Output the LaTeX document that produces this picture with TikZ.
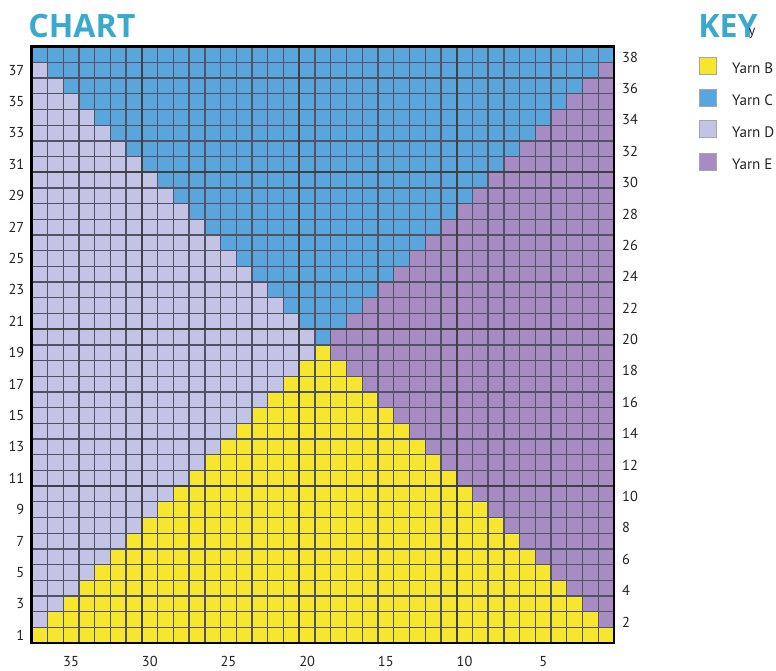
\documentclass[tikz,border=0pt]{standalone}
\usepackage{fontspec}
\setmainfont{PT Sans}
\newfontfamily\headfont{Open Sans}
\usetikzlibrary{positioning}

\definecolor{yarnB}{HTML}{F6E62E}
\definecolor{yarnC}{HTML}{5BA5DD}
\definecolor{yarnD}{HTML}{C3C3E6}
\definecolor{yarnE}{HTML}{A78BC3}
\definecolor{titlecyan}{HTML}{3AA9CF}
\definecolor{gridgray}{HTML}{525266}
\definecolor{labgray}{HTML}{222222}

\tikzset{
  title/.style={font=\headfont\bfseries\fontsize{18.3}{20}\selectfont, text=titlecyan},
  numlab/.style={font=\fontsize{8.2}{9}\selectfont, text=labgray},
  keytext/.style={font=\fontsize{8.6}{10}\selectfont, text=labgray},
  keybox/.style={draw=black!35, line width=0.4pt, minimum size=0.34cm},
  gridline/.style={draw=gridgray, line width=0.75pt},
  gridthick/.style={draw=black!75, line width=1.2pt},
  border/.style={draw=black, line width=1.6pt}
}

\begin{document}
\begin{tikzpicture}[x=0.02cm, y=0.02cm, every node/.style={inner sep=0pt}]
  \useasboundingbox (0,0) rectangle (776,670);

  %% Headings
  \node[title, anchor=base west] (chart) at (28,632) {CHART};
  \node[title, anchor=base west] (key) at (698,632) {KEY};
  \node[numlab, anchor=base] (stray) at (752,634) {y};

  %% Chart: 37 stitches x 38 rows, stitch 1 on the right
  \begin{scope}[shift={(614,27)}, x=-0.3148cm, y=0.3139cm]
    % side colours
    \fill[yarnD] (19,0) rectangle (37,38);
    \fill[yarnE] (0,0) rectangle (19,38);
    % lower triangle, Yarn B
    \foreach \r in {1,...,19}
      \fill[yarnB] (\r-1,\r-1) rectangle (38-\r,\r);
    % upper triangle, Yarn C
    \foreach \r in {20,...,38}
      \fill[yarnC] (38-\r,\r-1) rectangle (\r-1,\r);

    % grid
    \foreach \i in {1,...,36}
      \draw[gridline] (\i,0) -- (\i,38);
    \foreach \j in {1,...,37}
      \draw[gridline] (0,\j) -- (37,\j);
    \foreach \i in {10,20,30} {
      \draw[gridthick] (\i,0) -- (\i,38);
      \draw[gridthick] (0,\i) -- (37,\i);
    }
    \draw[border] (0,0) rectangle (37,38);

    % row numbers
    \foreach \r in {1,3,...,37}
      \node[numlab, anchor=east] (row\r) at (37.45,\r-0.5) {\r};
    \foreach \r in {2,4,...,38}
      \node[numlab, anchor=west] (row\r) at (-0.5,\r-0.66) {\r};
    % stitch numbers
    \foreach \c in {5,10,...,35}
      \node[numlab] (st\c) at (\c-0.5,-1.15) {\c};
  \end{scope}

  %% Key
  \foreach \n/\yy in {B/604.5, C/572.5, D/541, E/508.5} {
    \node[keybox, fill=yarn\n] (box\n) at (708,\yy) {};
    \node[keytext, anchor=base west] (lab\n)
      at ([xshift=0.3cm, yshift=-0.17cm]box\n.east) {Yarn \n};
  }
\end{tikzpicture}
\end{document}
